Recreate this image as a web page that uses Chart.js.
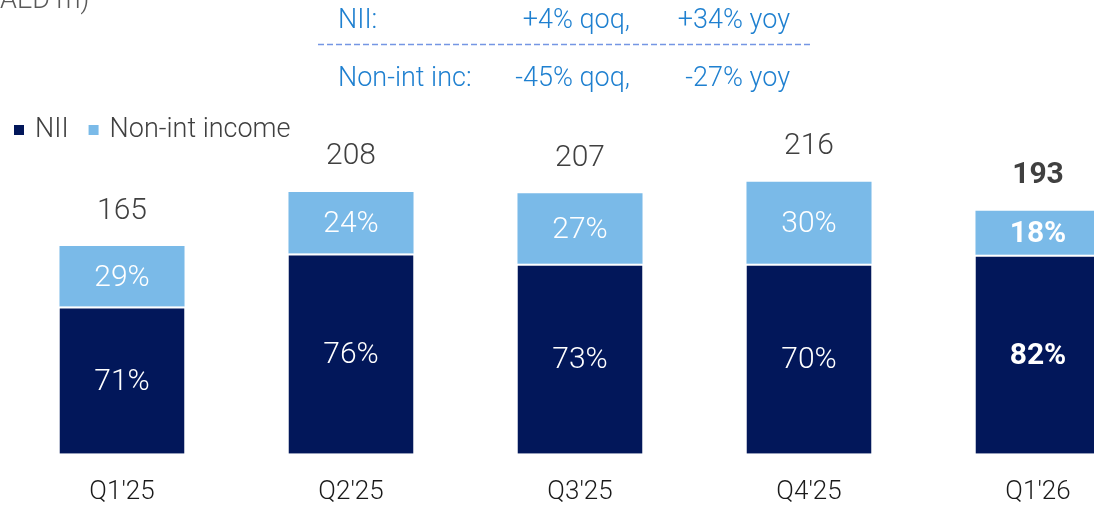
<!DOCTYPE html>
<html>
<head>
<meta charset="utf-8">
<script src="https://cdn.jsdelivr.net/npm/chart.js@4.4.1/dist/chart.umd.min.js"></script>
<style>
  html, body { margin: 0; padding: 0; background: #fff; overflow: hidden; }
  #wrap { width: 1160px; height: 531px; position: relative; }
</style>
</head>
<body>
<div id="wrap"><canvas id="incomeMix"></canvas></div>
<script>
const quarters = ["Q1'25", "Q2'25", "Q3'25", "Q4'25", "Q1'26"];
const nii = [117, 159, 151, 151, 158];
const nonInt = [48, 49, 56, 65, 35];
const totals = [165, 208, 207, 216, 193];
const growthRows = [
    ['NII:', '+4% qoq,', '+34% yoy'],
    ['Non-int inc:', '-45% qoq,', '-27% yoy']
];

const navy = '#02175a';
const lightBlue = '#7abae8';
const FONT = 'Roboto';

const ctxIncomeMix = document.getElementById('incomeMix');

const labelPlugin = {
    id: 'labelPlugin',
    afterDatasetsDraw(chart) {
        const ctx = chart.ctx;
        const metaNii = chart.getDatasetMeta(0);
        const metaNon = chart.getDatasetMeta(1);
        ctx.save();
        ctx.textAlign = 'center';
        ctx.textBaseline = 'middle';
        quarters.forEach((q, i) => {
            const last = i === quarters.length - 1;
            const weight = last ? 'bold' : '300';
            const a = metaNii.data[i];
            const b = metaNon.data[i];
            const total = nii[i] + nonInt[i];
            ctx.fillStyle = '#ffffff';
            ctx.font = weight + ' 30px ' + FONT;
            ctx.fillText(Math.round(nii[i] / total * 100) + '%', a.x, (a.y + a.base) / 2 + 2);
            ctx.fillText(Math.round(nonInt[i] / total * 100) + '%', b.x, (b.y + b.base) / 2 + 2);
            ctx.fillStyle = '#404040';
            ctx.fillText(totals[i], b.x, b.y - 35);
        });
        ctx.restore();
    },
    afterDraw(chart) {
        const ctx = chart.ctx;
        ctx.save();
        // cut-off unit title
        ctx.fillStyle = '#595959';
        ctx.font = '300 27px ' + FONT;
        ctx.textAlign = 'left';
        ctx.textBaseline = 'alphabetic';
        ctx.fillText('(AED m)', -ctx.measureText('(').width, 8);

        // growth box
        ctx.fillStyle = '#1f80d0';
        ctx.font = '300 27px ' + FONT;
        const rowY = [28, 86];
        growthRows.forEach((row, r) => {
            ctx.textAlign = 'left';
            ctx.fillText(row[0], 338, rowY[r]);
            ctx.textAlign = 'right';
            ctx.fillText(row[1], 630, rowY[r]);
            ctx.fillText(row[2], 790, rowY[r]);
        });
        ctx.strokeStyle = '#7596e4';
        ctx.lineWidth = 1.5;
        ctx.setLineDash([6, 3]);
        ctx.beginPath();
        ctx.moveTo(318, 44.5);
        ctx.lineTo(810, 44.5);
        ctx.stroke();
        ctx.setLineDash([]);

        // legend
        ctx.textAlign = 'left';
        ctx.textBaseline = 'middle';
        ctx.font = '300 27px ' + FONT;
        let x = 14;
        chart.data.datasets.forEach(ds => {
            ctx.fillStyle = ds.backgroundColor;
            ctx.fillRect(x, 125, 10, 10);
            ctx.fillStyle = '#404040';
            ctx.fillText(ds.label, x + 21, 130);
            x += 21 + ctx.measureText(ds.label).width + 20;
        });
        ctx.restore();
    }
};

const dataIncomeMix = {
    labels: quarters,
    datasets: [{
        label: 'NII',
        data: nii,
        backgroundColor: navy,
        borderColor: '#ffffff',
        borderWidth: { top: 2, left: 0, right: 0, bottom: 0 },
        borderSkipped: false
    }, {
        label: 'Non-int income',
        data: nonInt,
        backgroundColor: lightBlue,
        borderWidth: 0
    }]
};

const configIncomeMix = {
    type: 'bar',
    data: dataIncomeMix,
    plugins: [labelPlugin],
    options: {
        responsive: true,
        maintainAspectRatio: false,
        animation: false,
        layout: {
            padding: { top: 139, left: 7.5, right: 7.5, bottom: 0 }
        },
        plugins: {
            legend: { display: false },
            tooltip: { enabled: false }
        },
        datasets: {
            bar: { barPercentage: 1, categoryPercentage: 0.546 }
        },
        scales: {
            x: {
                stacked: true,
                grid: { display: false, drawTicks: false },
                border: { display: false },
                ticks: {
                    padding: 23,
                    color: '#1a1a1a',
                    font: { family: FONT, size: 26, weight: '300' }
                }
            },
            y: {
                stacked: true,
                display: false,
                min: 0,
                max: 250
            }
        }
    }
};

const barChartIncomeMix = new Chart(
    ctxIncomeMix,
    configIncomeMix
);
</script>
</body>
</html>
